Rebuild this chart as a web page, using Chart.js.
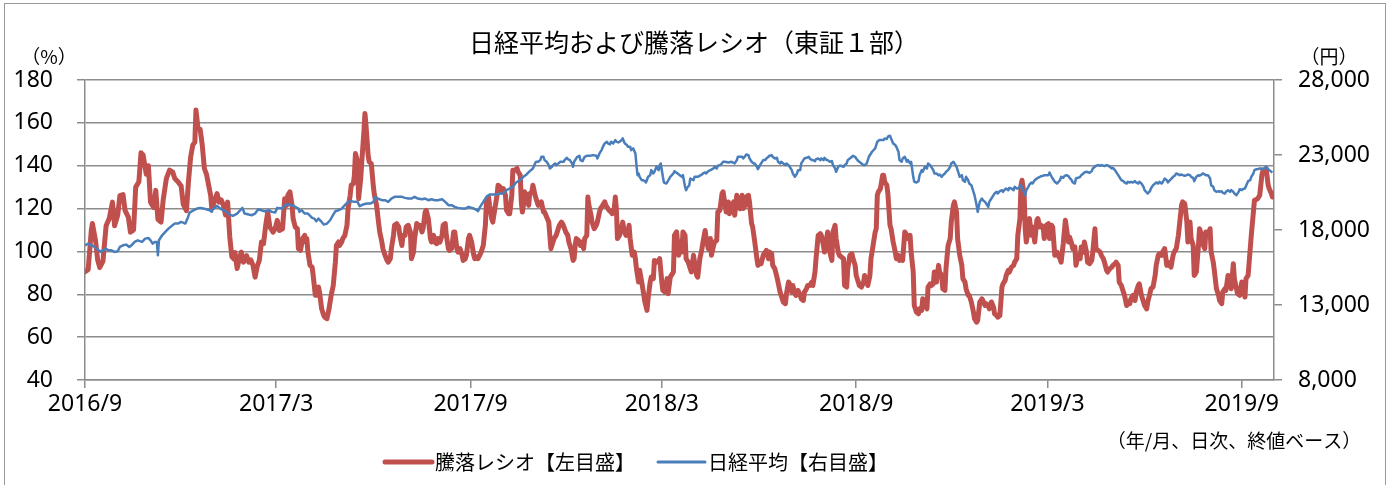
<!DOCTYPE html>
<html>
<head>
<meta charset="utf-8">
<script src="https://cdn.jsdelivr.net/npm/chart.js@4.4.1/dist/chart.umd.min.js"></script>
<style>
html,body{margin:0;padding:0;background:#fff;}
#wrap{position:relative;width:1397px;height:485px;overflow:hidden;background:#fff;}
canvas{display:block;}
</style>
</head>
<body>
<div id="wrap"><canvas id="c" width="1397" height="485"></canvas></div>
<script>
// ---- text ----
const titleText = '日経平均および騰落レシオ（東証１部）';
const seriesNames = ['騰落レシオ【左目盛】', '日経平均【右目盛】'];
const leftUnit = '（%）';
const rightUnit = '（円）';
const noteText = '（年/月、日次、終値ベース）';

// ---- x axis: days since 2016-09-01 ----
const startDate = '2016-09-01';
const tickDays = [0, 181, 365, 546, 730, 911, 1095];
const tickLabels = ['2016/9', '2017/3', '2017/9', '2018/3', '2018/9', '2019/3', '2019/9'];
const xMaxDay = 1125.5;

// ---- y axes ----
const leftMin = 40, leftMax = 180, leftStep = 20;
const rightMin = 8000, rightMax = 28000, rightStep = 5000;

// ---- 騰落レシオ (day, %) ----
const adRatio = [
[0,90.5],[3,91.5],[6,110],[7,113],[10,105],[12,96],[14,92.5],[17,95.5],[20,112],[23,115.5],[26,123],[28,112],[31,117],[33,126],[36,126.5],[38,119],[41,116],[43,109],[46,110],[48,130],[51,132.5],[53,146],[55,145],[58,136],[60,140],[62,123],[65,120.5],[67,128.5],[69,115],[72,113.7],[74,124],[77,134],[80,138],[83,137],[85,134],[88,132.5],[91,130.5],[93,122],[96,119],[98,133],[100,144],[102,149.6],[104,151],[105,166],[107,157.5],[109,157],[111,149.6],[113,138.7],[115,136],[117,131],[119,126],[120,120],[122,122.5],[125,127],[127,123],[129,124],[131,121.5],[133,117],[135,123],[137,107],[139,97.5],[141,96.5],[142,99.5],[144,92],[146,96.5],[148,99.7],[150,95],[153,98],[155,95],[157,96],[159,93.5],[161,88],[163,93],[165,95.8],[167,104.4],[169,103.6],[171,112],[173,118.4],[175,111.4],[178,109],[180,110.6],[182,114.5],
[184,109.8],[187,110.6],[189,124.6],[191,121.5],[192,126.2],[194,127.8],[196,121.5],[197,115.3],[199,111.4],[201,110.6],[202,101.3],[204,100.5],[206,106],[208,107.5],[209,104.4],[210,106],[211,99.7],[213,93.5],[215,92.7],[216,88.8],[218,79.5],[219,79.5],[221,83.4],[222,81],[224,73.2],[226,70.1],[227,69.3],[229,68.6],[231,73.2],[233,79.5],[235,84.1],[237,95],[238,102.8],[240,104.4],[241,102.8],[243,104.4],[244,106],[246,107.5],[248,112.2],[249,120],[251,126.2],[252,130.9],[254,131.7],[255,135.5],[256,145.7],[258,141.8],[259,124.6],[261,134],[262,141.8],[264,155.8],[265,164.4],[266,158.9],[268,144.9],[269,141.8],[271,141],[273,130.1],[274,126.2],[276,121.5],[278,113],[279,109.1],[281,104.4],[282,101.3],[284,98.2],[286,95.8],[287,95],[289,96.6],[290,101.3],[292,107.5],[293,112.2],[295,113],[297,111.4],[298,107.5],[300,102.8],[301,107.5],[303,107.5],[304,111.4],[306,112.2],[308,109.1],[309,96.6],[311,99.7],[312,106],[314,113],[316,112.2],[317,112.2],[319,109.1],[320,110.6],[322,118.4],[323,119.2],[325,115.3],[327,106],[328,104.4],[330,107.5],[331,104.4],[333,103.6],[334,106],[336,104.4],[338,107.5],[339,112.2],[341,113],[342,107.5],[344,101.3],[345,100.5],[347,101.3],[349,109.1],[350,109.1],[352,101.3],[353,99.7],[355,101.3],[357,98.2],[358,95.8],[360,96.6],[361,98.2],[363,106],[364,107.5],[366,104.4],[368,98.2],[369,96.6],[371,97.4],[372,96.6],
[375,99.7],[377,102.8],[379,112.2],[380,123.1],[382,125.4],[383,121.5],[385,115.3],[386,113.7],[388,120],[390,126.2],[391,130.9],[393,130.1],[394,127.8],[396,129.3],[398,126.2],[399,119.2],[401,117.6],[402,117.6],[404,126.2],[405,137.9],[407,137.9],[409,138.7],[410,137.1],[412,135.5],[413,123.1],[414,118.4],[415,121.5],[416,127.8],[418,126.2],[420,121.5],[421,127],[423,127.8],[424,130.9],[426,126.2],[427,124.6],[429,121.5],[431,122.3],[432,123.1],[434,118.4],[435,118.4],[437,116.1],[439,113.7],[440,107.5],[441,101.3],[443,104.4],[444,106],[446,107.5],[447,109.1],[449,112.2],[451,113.7],[452,113],[454,110.6],[455,109.1],[457,107.5],[458,104.4],[460,101.3],[462,95.8],[463,96.6],[464,102.8],[465,106],[467,105.2],[469,102.8],[470,104.4],[472,101.3],[473,106],[475,107.5],[476,125.4],[477,121.5],[479,116.9],[480,113.7],[482,110.6],[484,112.2],[485,113.7],[487,118.4],[488,120],[490,121.5],[492,123.1],[493,121.5],[495,120],[496,119.2],[498,118.4],[499,117.6],[501,120],[502,125.4],[503,120],[504,106],[506,107.5],[507,109.1],[509,113.7],[510,110.6],[512,107.5],[514,109.1],[515,112.2],[516,106],[518,98.2],[520,99.7],[521,96.6],[522,91.9],[524,85.7],[525,91.2],[527,85.7],[528,82.6],[530,76.4],[532,72.5],[533,77.9],[535,85.7],[536,88],[538,87.3],[539,95.8],[541,95],[543,95.8],[544,96.6],[546,85.7],[547,81.8],[549,81],[551,87.3],
[552,80.3],[554,88],[555,88.8],[557,90.4],[558,107.5],[560,109.1],[562,98.2],[563,104.4],[565,99.7],[566,109.1],[568,107.5],[569,96.6],[571,95],[573,91.9],[574,90.4],[576,98.2],[577,95],[579,88.8],[580,88],[582,96.6],[584,101.3],[585,104.4],[587,109.8],[588,106],[590,101.3],[592,106],[593,98.2],[595,102.8],[596,104.4],[598,105.2],[599,118.4],[601,119.2],[603,127],[604,127.8],[606,121.5],[607,118.4],[609,123.1],[610,117.6],[612,120],[614,123.1],[615,116.9],[617,126.2],[618,121.5],[620,120],[622,126.2],[623,120],[625,121.5],[626,125.4],[628,126.2],[629,123.1],[631,113],[632,111.4],[634,104.4],[636,96.6],[637,93.5],[639,95],[640,94.3],[642,98.2],[643,98.9],[645,100.5],[647,96.6],[648,99.7],[650,98.9],[651,93.5],[653,91.9],[655,88],[656,85.7],[658,81],[659,79.5],[661,76.4],[663,75.6],[664,80.3],[666,85.7],[667,84.9],[669,81],[670,84.1],[672,80.3],[673,79.5],[675,81.8],[677,79.5],[678,77.9],[680,77.1],[681,81],[683,82.6],[684,84.1],[686,84.1],[688,85.7],[689,84.1],[691,90.4],[692,96.6],[694,107.5],[696,108.3],[697,107.5],[699,102.8],[700,99.7],[702,106],[703,109.1],[705,99.7],[707,95.8],[708,109.1],[710,112.2],[711,106],[713,99.7],[714,98.2],[716,97.4],[718,96.6],[719,84.1],[721,83.4],[722,91.9],[724,98.2],[726,98.9],[727,96.6],[729,93.5],
[730,88.8],[732,85.7],[733,84.1],[735,83.4],[737,85.7],[738,88.8],[740,85.7],[741,84.1],[743,88.8],[744,96.6],[746,102.8],[748,109.1],[749,110.6],[750,126.2],[751,127.8],[753,129.3],[755,135.5],[756,135.5],[757,132.4],[759,130.9],[760,127],[762,112.2],[763,110.6],[765,104.4],[767,99.7],[768,96.6],[770,98.2],[771,95.8],[773,96.6],[774,95.8],[776,109.1],[778,107.5],[779,106],[781,107.5],[782,99.7],[784,90.4],[785,74.8],[787,71.7],[789,70.9],[790,73.2],[792,72.5],[793,77.9],[795,75.6],[797,73.2],[798,83.4],[800,84.9],[801,84.1],[803,84.9],[804,90.4],[806,85.7],[808,93.5],[809,90.4],[811,88.8],[812,82.6],[814,81.8],[815,91.9],[817,102.8],[819,106],[820,113.7],[822,121.5],[823,123.1],[825,118.4],[826,106],[828,98.2],[830,93.5],[831,87.3],[833,85.7],[834,82.6],[836,79.5],[837,79.5],[839,76.4],[841,71.7],[842,68.6],[844,67],[845,67.8],[847,76.4],[849,77.9],[850,77.1],[852,74.8],[853,75.6],[855,74.8],[856,73.2],[858,76.4],[860,74],[861,70.9],[863,70.1],[864,69.3],[866,70.1],[868,83.4],[869,84.9],[871,86.5],[872,88.8],[874,91.2],[875,90.4],[877,92.7],[879,93.5],[880,95],[882,96.6],[883,107.5],[885,115.3],[886,130.9],[887,133.2],[889,126.2],[890,110.6],[891,104.4],[892,107.5],[893,113.7],[894,115.3],[896,107.5],[897,111.4],[899,104.4],[901,114.5],[902,115.3],[904,111.4],[905,112.2],[907,111.4],[908,106],[910,112.2],
[912,113],[913,106],[915,112.2],[916,111.4],[918,98.2],[920,99.7],[921,98.2],[923,96.6],[924,95],[926,103.6],[927,109.1],[928,114.5],[930,107.5],[931,104.4],[932,106.7],[934,103.6],[935,101.3],[937,102.1],[938,93.5],[940,98.2],[942,96.6],[943,102.1],[945,99.7],[946,104.4],[948,99.7],[949,95],[951,94.3],[953,95.8],[954,99.7],[956,110.6],[957,101.3],[959,100.5],[961,99.7],[962,98.2],[964,96.6],[965,95],[967,91.2],[968,90.4],[970,91.9],[972,92.7],[973,93.5],[975,94.3],[976,95],[978,93.5],[979,85.7],[981,84.1],[983,81],[984,79.5],[986,74.8],[987,76.4],[989,75.6],[990,77.9],[992,79.5],[994,77.1],[995,81],[997,84.1],[998,84.9],[1000,79.5],[1002,76.4],[1003,74.8],[1005,73.2],[1006,76.4],[1008,80.3],[1009,82.6],[1011,83.4],[1013,88.8],[1014,93.5],[1016,98.2],[1017,98.9],[1019,98.2],[1020,99.7],[1022,101.3],[1024,93.5],[1025,95],[1027,93.5],[1028,92.7],[1030,98.2],[1031,99.7],[1033,101.3],[1035,107.5],[1036,112.2],[1038,121.5],[1039,123.1],[1041,122.3],[1043,113.7],[1044,104.4],[1046,113.7],[1047,106],[1049,102.8],[1050,88.8],[1052,90.4],[1054,102.8],[1055,110.6],[1057,107.5],[1058,103.6],[1060,101.3],[1061,109.1],[1063,107.5],[1065,110.6],[1066,99.7],[1068,95],[1069,91.2],[1071,82.6],[1073,79.5],[1074,77.1],[1076,75.6],[1077,81],[1079,82.6],[1080,81.8],[1082,88.8],[1084,87.3],[1085,82.6],[1087,94.3],[1088,87.3],[1090,82.6],[1091,80.3],[1093,79.5],[1095,85.7],[1096,82.6],[1098,78.7],[1099,87.3],[1101,88.8],[1102,95],[1104,107.5],[1106,118.4],[1107,123.9],[1109,124.3],[1110,124.6],[1112,126.2],[1114,135.5],[1115,137.9],[1117,137.1],[1118,138.7],[1120,130.9],[1121,129.3],[1123,127],[1124,125.4]
];

// ---- 日経平均 (day, 円) ----
const nikkei = [
[0,16980],[3,17092],[6,16980],[9,16869],[13,16647],[15,16535],[17,16647],[20,16758],[22,16647],[25,16647],[28,16535],[31,16580],[33,16869],[36,16980],[39,17025],[42,16869],[44,16980],[47,17203],[50,17314],[54,17203],[57,17426],[60,17470],[62,17314],[64,17092],[66,17203],[68,17203],[69,16312],[70,17314],[73,17649],[76,17871],[79,18094],[82,18272],[85,18428],[88,18428],[91,18539],[95,18428],[97,18762],[99,19163],[103,19319],[106,19430],[109,19475],[112,19430],[115,19386],[118,19319],[120,19208],[121,19386],[125,19608],[128,19430],[131,19319],[134,19208],[137,19029],[140,18940],[144,19096],[147,19319],[149,19475],[151,19096],[155,19029],[158,18985],[161,19096],[164,19386],[167,19319],[170,19252],[174,19319],[177,19208],[180,19163],[182,19475],
[187,19430],[189,19653],[192,19697],[196,19653],[199,19542],[202,19430],[203,19208],[205,19319],[208,19096],[211,19096],[215,18807],[217,18762],[219,18584],[221,18762],[224,18539],[226,18361],[229,18428],[232,18651],[235,19029],[237,19252],[240,19319],[243,19430],[246,19653],[249,19876],[252,19920],[255,19876],[258,19876],[260,19586],[263,19697],[267,19764],[270,19764],[273,19876],[275,20210],[277,20098],[281,19987],[284,19987],[287,19876],[290,20098],[293,20210],[297,20210],[300,20210],[303,20143],[306,20098],[309,20098],[312,20210],[315,20098],[319,20054],[322,20098],[325,19987],[328,20054],[331,19987],[334,19987],[338,20054],[341,19876],[344,19653],[347,19653],[350,19542],[353,19475],[357,19430],[360,19430],[363,19542],
[368,19430],[371,19319],[372,19252],[374,19542],[377,19876],[380,20210],[383,20366],[386,20366],[389,20366],[393,20432],[396,20432],[399,20655],[402,20766],[405,20878],[408,21167],[412,21323],[415,21546],[418,21702],[421,21924],[424,22103],[426,22437],[427,22548],[429,22548],[431,22659],[432,22882],[434,22882],[435,22659],[437,22548],[439,22325],[440,22103],[442,22214],[443,22325],[445,22437],[446,22325],[448,22437],[450,22548],[451,22548],[453,22548],[454,22659],[456,22815],[457,22726],[459,22659],[461,22437],[462,22214],[463,22548],[465,22771],[466,22882],[468,22949],[469,22659],[471,22592],[473,22882],[475,22949],[478,22949],[481,22993],[484,22949],[485,22771],[487,23105],[489,23327],[491,23661],[492,23773],[494,23884],[495,23773],[497,23706],[498,23884],[500,23773],[502,23995],[503,23884],[505,23840],[506,23884],[508,23995],[509,24107],[511,23773],[513,23661],[514,23550],[516,23550],[517,23327],[519,23439],[521,23105],[522,22325],[523,21657],[524,21768],[525,21546],[527,21323],[528,21323],[530,21256],[531,21167],[533,21546],[535,21657],[536,21991],[538,21768],[539,21880],[541,22214],[543,21991],[544,22325],[545,22437],[547,21546],[548,21167],[550,21100],[551,21167],
[554,21546],[557,21768],[558,21924],[561,21768],[563,21657],[565,21546],[566,21657],[568,20878],[569,20655],[570,20811],[572,20989],[573,21434],[576,21323],[577,21546],[580,21546],[583,21657],[585,21768],[587,21835],[588,21768],[590,21924],[592,21991],[595,22103],[596,22214],[598,22103],[599,22281],[601,22325],[603,22437],[604,22548],[606,22548],[609,22503],[612,22548],[615,22437],[617,22659],[618,22882],[622,22882],[623,22771],[625,22926],[626,23038],[628,22993],[629,22771],[631,22548],[633,22437],[634,22437],[636,22214],[637,22058],[639,22325],[640,22437],[642,22659],[644,22659],[645,22771],[647,22882],[648,22949],[650,22993],[651,22882],[653,22771],[655,22815],[656,22548],[658,22437],[659,22548],[661,22437],[663,22325],[664,22437],[666,22325],[667,22214],[669,21991],[670,21768],[672,21546],[674,21768],[675,21991],[677,21991],[678,22437],[680,22659],[681,22771],[683,22815],[685,22882],[686,22771],[688,22659],[689,22659],[691,22592],[692,22726],[694,22771],[696,22659],[697,22771],[699,22659],[700,22815],[702,22659],[703,22659],[705,22548],[707,22592],[708,22325],[710,22103],[711,21880],[713,22214],[714,22281],[716,22281],[718,22214],[719,22325],[721,22437],[722,22659],[724,22771],[726,22882],[727,22949],[729,22882],[730,22771],[732,22592],[733,22548],[735,22437],[737,22325],[738,22325],
[740,22437],[742,22882],[745,23216],[748,23439],[750,23884],[752,23995],[756,23995],[757,24107],[759,24062],[760,24218],[762,24285],[763,24107],[765,23773],[767,23661],[768,23550],[770,23216],[771,22659],[773,22548],[774,22771],[776,22882],[778,22548],[779,22659],[781,22437],[782,22548],[784,21546],[785,21212],[787,21167],[789,21256],[790,21657],[792,21991],[793,21880],[795,22214],[797,22103],[798,22437],[800,22325],[801,22214],[803,21991],[804,21768],[806,21768],[808,21657],[809,21702],[811,21546],[812,21657],[814,21768],[815,21880],[817,21991],[819,22214],[820,22437],[822,22548],[823,22437],[825,22214],[826,21991],[828,21546],[830,21657],[831,21323],[833,21212],[834,21546],[836,21323],[837,21100],[839,20989],[841,20544],[842,20321],[844,19653],[845,19208],[847,19876],[849,20098],[850,19987],[852,19876],[853,19764],[855,19542],[856,19876],[858,20098],[860,20321],[861,20432],[863,20544],[864,20432],[866,20588],[868,20655],[869,20544],[871,20722],[872,20766],[874,20655],[875,20811],[877,20766],[879,20655],[880,20878],[882,20766],[883,20766],[885,20878],[886,20989],[888,20655],[890,20321],[891,20655],[893,20878],[894,21033],[896,21167],[897,21100],[899,21323],[901,21434],[902,21479],[904,21546],[905,21590],[907,21613],[908,21657],[910,21657],
[912,21657],[913,21835],[915,21546],[916,21434],[918,21212],[920,21100],[921,21167],[923,21323],[924,21546],[926,21479],[927,21590],[929,21657],[931,21590],[932,21479],[934,21323],[935,21167],[937,21100],[938,21434],[940,21479],[942,21546],[943,21657],[945,21768],[946,21835],[948,21880],[950,21835],[951,21813],[953,21924],[954,22103],[956,22214],[957,22281],[959,22325],[961,22281],[962,22325],[964,22281],[965,22259],[967,22325],[969,22281],[970,22214],[972,22103],[973,22147],[975,21991],[976,21880],[978,21657],[980,21434],[981,21323],[983,21256],[984,21167],[986,21100],[987,21212],[989,21167],[990,21212],[992,21167],[994,21256],[995,21167],[997,21100],[998,21212],[1000,21100],[1002,20878],[1003,20655],[1005,20499],[1006,20432],[1008,20588],[1009,20766],[1011,20989],[1013,21100],[1014,21167],[1016,21100],[1017,21212],[1019,21100],[1020,21167],[1022,21434],[1024,21323],[1025,21167],[1027,21323],[1028,21390],[1030,21546],[1032,21657],[1033,21768],[1035,21702],[1036,21657],[1038,21702],[1039,21657],[1041,21613],[1043,21657],[1044,21702],[1046,21657],[1047,21546],[1049,21479],[1050,21256],[1052,21546],[1054,21657],[1055,21613],[1057,21702],[1058,21768],[1060,21702],[1061,21657],[1063,21657],[1065,21434],[1066,20989],[1068,20878],[1069,20655],[1071,20544],[1073,20588],[1074,20544],[1076,20588],[1077,20477],[1079,20432],[1080,20544],[1082,20655],[1084,20544],[1085,20655],[1087,20544],[1088,20432],[1090,20321],[1092,20544],[1093,20722],[1095,20655],[1096,20722],[1098,20766],[1100,21100],[1101,21256],[1103,21323],[1104,21546],[1106,21768],[1107,21991],[1109,22058],[1110,22058],[1112,22103],[1114,22103],[1115,22058],[1117,22147],[1118,22214],[1120,22058],[1121,21991],[1123,21880],[1124,21835]
];

// ---- styles ----
const RED = '#C0504D';
const BLUE = '#4A7EBB';
const GRID = '#8C8C8C';
const NUM_FAMILY = "'Noto Sans', 'DejaVu Sans', sans-serif";
const JP_FAMILY = "'Noto Sans CJK JP', 'Noto Sans', sans-serif";
const NUM_FONT = {family: NUM_FAMILY, size: 23};

const decor = {
  id: 'decor',
  afterDraw(chart) {
    const ctx = chart.ctx;
    ctx.save();
    // frame
    ctx.strokeStyle = '#9A9A9A';
    ctx.lineWidth = 1;
    ctx.strokeRect(4.5, 3.5, 1381, 520);
    ctx.fillStyle = '#000';
    ctx.textBaseline = 'middle';
    // title
    ctx.textAlign = 'center';
    ctx.font = '25px ' + JP_FAMILY;
    ctx.fillText(titleText, 694, 42);
    // units
    ctx.font = '19px ' + JP_FAMILY;
    ctx.fillText(leftUnit, 49, 57);
    ctx.fillText(rightUnit, 1329, 57);
    // note
    ctx.font = '19px ' + JP_FAMILY;
    ctx.fillText(noteText, 1234, 441);
    // legend
    const ds = chart.data.datasets;
    const items = [
      {x0: 385, x1: 432, tx: 435, ds: ds[1], w: 5},
      {x0: 658, x1: 705, tx: 708, ds: ds[0], w: 3}
    ];
    ctx.textAlign = 'left';
    ctx.font = '20px ' + JP_FAMILY;
    items.forEach(it => {
      ctx.strokeStyle = it.ds.borderColor;
      ctx.lineWidth = it.w;
      ctx.lineCap = 'round';
      ctx.beginPath();
      ctx.moveTo(it.x0, 462);
      ctx.lineTo(it.x1, 462);
      ctx.stroke();
      ctx.fillStyle = '#000';
      ctx.fillText(it.ds.label, it.tx, 462);
    });
    ctx.restore();
  }
};

const ctx = document.getElementById('c').getContext('2d');
new Chart(ctx, {
  type: 'line',
  data: {
    datasets: [
      {
        label: seriesNames[1],
        data: nikkei.map(p => ({x: p[0], y: p[1]})),
        yAxisID: 'y1',
        borderColor: BLUE,
        borderWidth: 2.5,
        pointRadius: 0,
        tension: 0,
        borderJoinStyle: 'round',
        order: 1
      },
      {
        label: seriesNames[0],
        data: adRatio.map(p => ({x: p[0], y: p[1]})),
        yAxisID: 'y',
        borderColor: RED,
        borderWidth: 5,
        pointRadius: 0,
        tension: 0,
        borderJoinStyle: 'round',
        borderCapStyle: 'round',
        order: 2
      }
    ]
  },
  options: {
    responsive: false,
    animation: false,
    devicePixelRatio: 1,
    layout: {padding: {top: 80, bottom: 65, left: 0, right: 0}},
    plugins: {
      legend: {display: false},
      title: {display: false},
      tooltip: {enabled: false}
    },
    scales: {
      x: {
        type: 'linear',
        min: 0,
        max: xMaxDay,
        afterBuildTicks: s => { s.ticks = tickDays.map(v => ({value: v})); },
        afterFit: s => { s.height = 40; },
        ticks: {
          callback: v => tickLabels[tickDays.indexOf(v)],
          font: NUM_FONT, color: '#000', padding: 3,
          maxRotation: 0, autoSkip: false
        },
        grid: {drawOnChartArea: false, tickLength: 8, color: GRID, lineWidth: 1.5},
        border: {display: true, color: GRID, width: 1.5}
      },
      y: {
        position: 'left',
        min: leftMin, max: leftMax,
        afterFit: s => { s.width = 85; },
        ticks: {stepSize: leftStep, font: NUM_FONT, color: '#000', padding: 24},
        grid: {color: GRID, lineWidth: 1.5, tickLength: 8},
        border: {display: true, color: GRID, width: 1.5}
      },
      y1: {
        position: 'right',
        min: rightMin, max: rightMax,
        afterFit: s => { s.width = 123; },
        ticks: {stepSize: rightStep, font: NUM_FONT, color: '#000', padding: 16,
          callback: v => v.toLocaleString('en-US')},
        grid: {drawOnChartArea: false, tickLength: 8, color: GRID, lineWidth: 1.5},
        border: {display: true, color: GRID, width: 1.5}
      }
    }
  },
  plugins: [decor]
});
</script>
</body>
</html>
